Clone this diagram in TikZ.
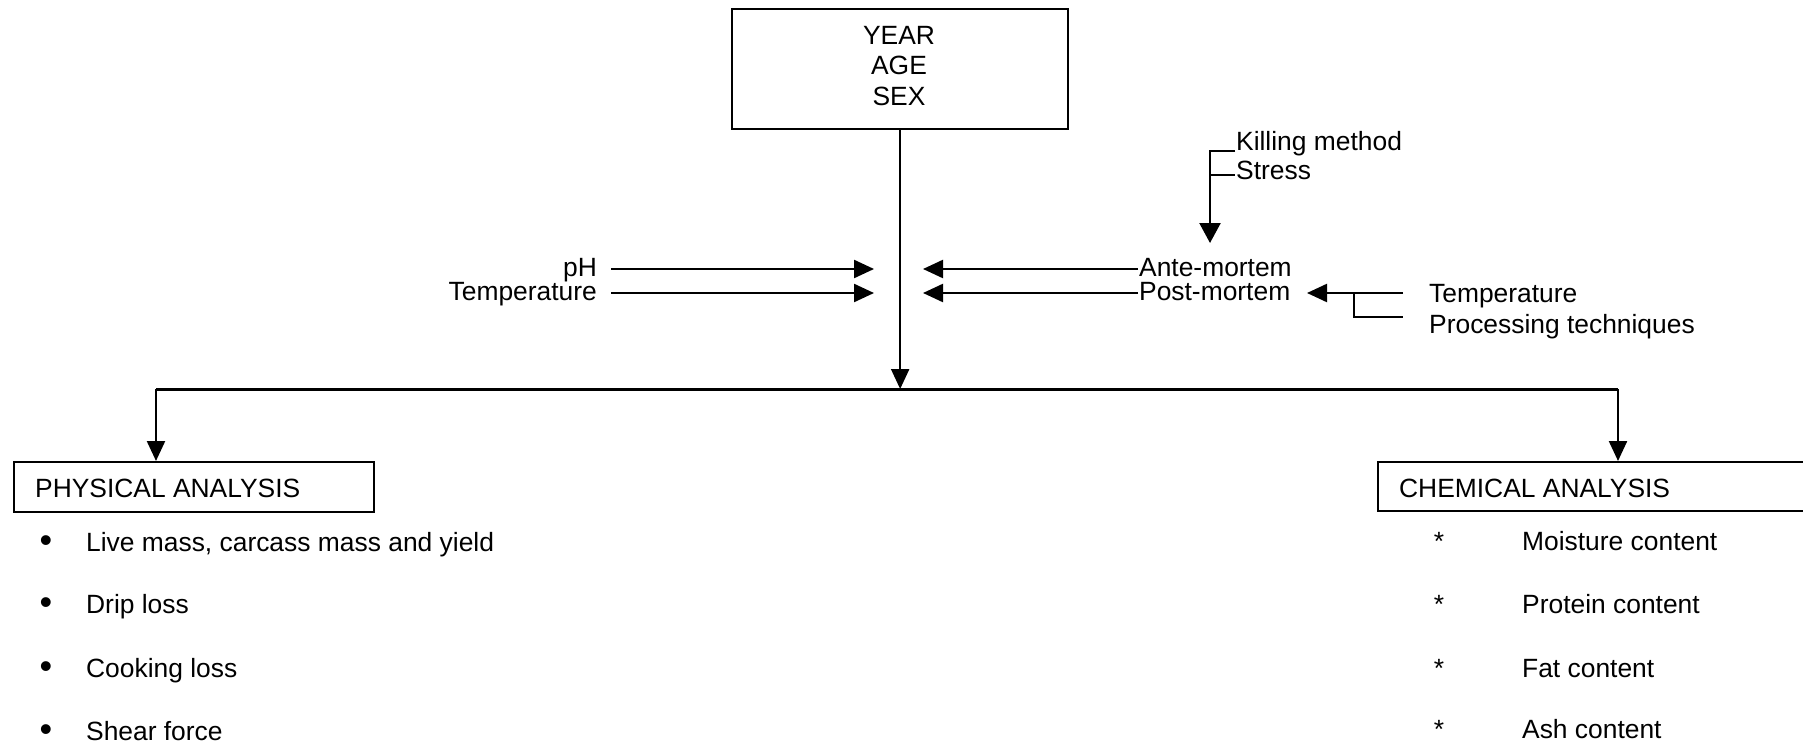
\documentclass[tikz,border=0pt]{standalone}
\usepackage{fontspec}
\setmainfont{Liberation Sans}
\usetikzlibrary{arrows.meta}
\begin{document}
\begin{tikzpicture}[x=1pt,y=-1pt,line width=2.3pt,
  lbl/.style={inner sep=0pt,font=\fontsize{26.4}{30.5}\selectfont},
  dot/.style={inner sep=0pt,anchor=center,font=\fontsize{36}{36}\selectfont},
  frame/.style={draw,inner sep=0pt,anchor=north west},
  arr/.style={-{Triangle[length=20pt,width=18pt]}},
  bar/.style={line width=3pt}]
\useasboundingbox (0,0) rectangle (1803,746);
\clip (0,0) rectangle (1803,746);

% top box with the three factors
\node[frame,minimum width=336pt,minimum height=120pt] (top) at (731,8) {};
\node[lbl,align=center] (toptxt) at (899,66) {YEAR\\AGE\\SEX};

% left-hand influences
\node[lbl,anchor=base east] (ph) at (598,276) {pH};
\node[lbl,anchor=base east] (templ) at (598,300) {Temperature};
\coordinate (phs) at (611,269);
\coordinate (pht) at (874,269);
\coordinate (tls) at (611,293);
\coordinate (tlt) at (874,293);
\draw[arr] (phs) -- (pht);
\draw[arr] (tls) -- (tlt);

% right-hand influences
\node[lbl,anchor=base west] (ante) at (1138,276) {Ante-mortem};
\node[lbl,anchor=base west] (post) at (1138,300) {Post-mortem};
\coordinate (antt) at (923,269);
\coordinate (postt) at (923,293);
\draw[arr] (ante.west |- antt) -- (antt);
\draw[arr] (post.west |- postt) -- (postt);

% ante-mortem factors
\node[lbl,anchor=base west] (kill) at (1235,151) {Killing method};
\node[lbl,anchor=base west] (stress) at (1235,180) {Stress};
\coordinate (kt) at (1210,243);
\coordinate (sj) at (1210,175);
\draw[arr,-{Triangle[length=20pt,width=21pt]}] (kill.base west) -| (kt);
\draw (sj) -- (stress.base west |- sj);

% post-mortem factors
\node[lbl,anchor=base west] (tempr) at (1428,302) {Temperature};
\node[lbl,anchor=base west] (proc) at (1428,333) {Processing techniques};
\coordinate (ps) at (1403,293);
\coordinate (pt) at (1307,293);
\coordinate (bj) at (1354,293);
\coordinate (pe) at (1403,317);
\draw[arr] (ps) -- (pt);
\draw (bj) |- (pe);

% main stem and split
\coordinate (barL) at (156,389);
\coordinate (barR) at (1618,389);
\draw[arr] (top.south) -- (top.south |- barL);
\draw[bar] (barL) -- (barR);

% physical analysis
\node[frame,minimum width=360pt,minimum height=50pt] (phys) at (13,461) {};
\node[lbl,anchor=base west] (physt) at (34,497) {PHYSICAL ANALYSIS};
\draw[arr] (barL) -- (barL |- phys.north);

\node[dot] (b1) at (46,544) {\textbullet};
\node[dot] (b2) at (46,606) {\textbullet};
\node[dot] (b3) at (46,670) {\textbullet};
\node[dot] (b4) at (46,733) {\textbullet};
\node[lbl,anchor=base west] (p1) at (85,551) {Live mass, carcass mass and yield};
\node[lbl,anchor=base west] (p2) at (85,613) {Drip loss};
\node[lbl,anchor=base west] (p3) at (85,677) {Cooking loss};
\node[lbl,anchor=base west] (p4) at (85,740) {Shear force};

% chemical analysis
\node[frame,minimum width=440pt,minimum height=49pt] (chem) at (1377,461) {};
\node[lbl,anchor=base west] (chemt) at (1398,497) {CHEMICAL ANALYSIS};
\draw[arr] (barR) -- (barR |- chem.north);

\node[lbl,anchor=base] (s1) at (1439,550) {*};
\node[lbl,anchor=base] (s2) at (1439,613) {*};
\node[lbl,anchor=base] (s3) at (1439,677) {*};
\node[lbl,anchor=base] (s4) at (1439,738) {*};
\node[lbl,anchor=base west] (c1) at (1521,550) {Moisture content};
\node[lbl,anchor=base west] (c2) at (1521,613) {Protein content};
\node[lbl,anchor=base west] (c3) at (1521,677) {Fat content};
\node[lbl,anchor=base west] (c4) at (1521,738) {Ash content};
\end{tikzpicture}
\end{document}
